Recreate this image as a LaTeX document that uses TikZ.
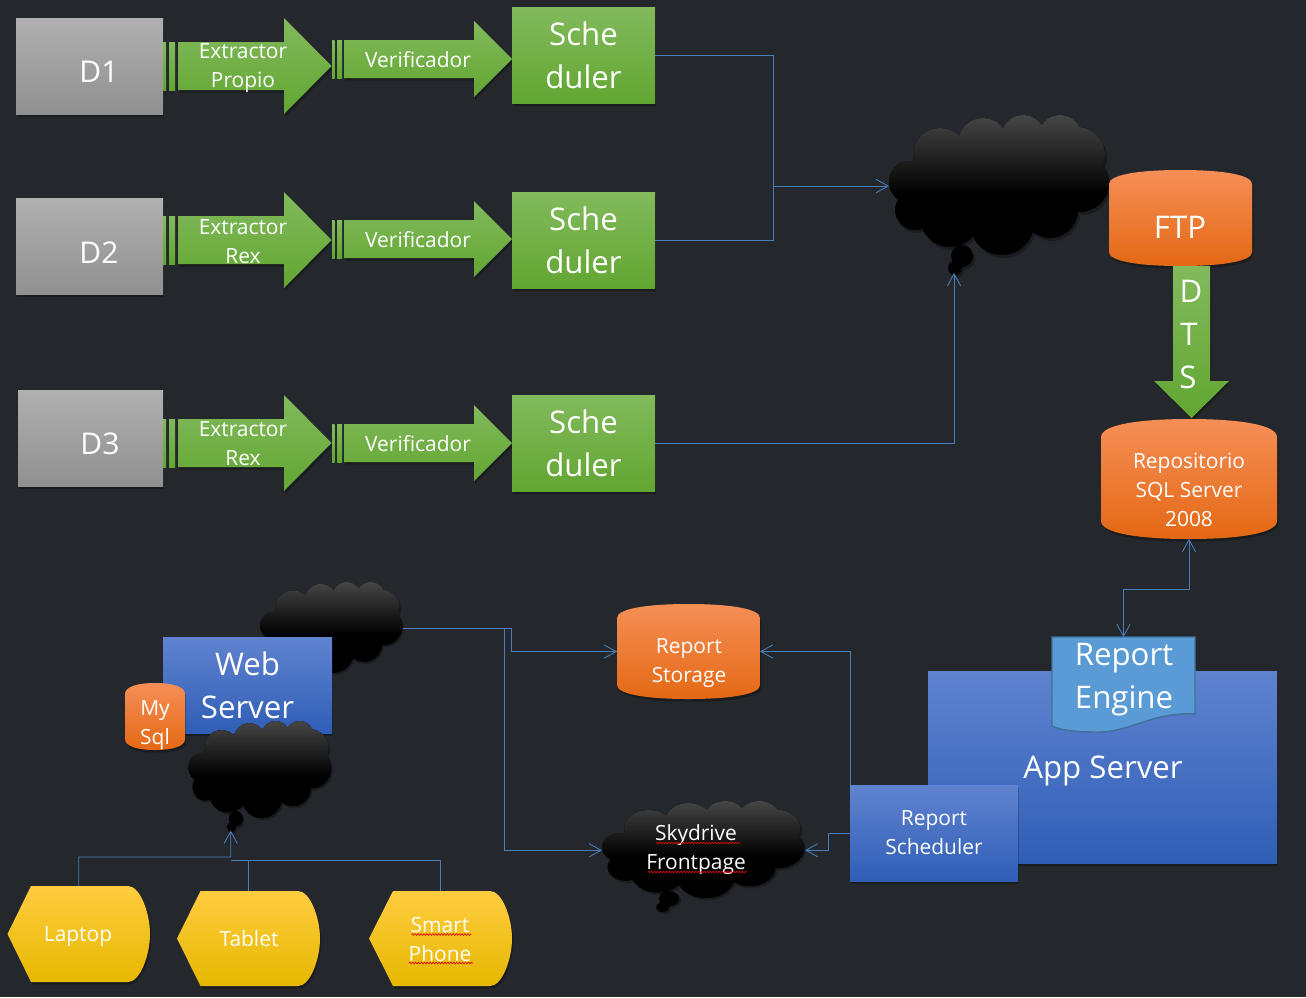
\documentclass[tikz,border=0pt]{standalone}
\usepackage{fontspec}
\setmainfont{Open Sans}
\usetikzlibrary{shadows,arrows.meta,decorations.pathmorphing}
\definecolor{bg}{HTML}{24272C}
\definecolor{gA}{HTML}{B0B0B0}\definecolor{gB}{HTML}{A2A2A2}\definecolor{gC}{HTML}{909090}
\definecolor{grA}{HTML}{82BA5C}\definecolor{grB}{HTML}{70AE42}\definecolor{grC}{HTML}{62A632}
\definecolor{oA}{HTML}{F58F57}\definecolor{oB}{HTML}{F47C2C}\definecolor{oC}{HTML}{E46814}
\definecolor{bA}{HTML}{6083CF}\definecolor{bB}{HTML}{3F6FC7}\definecolor{bC}{HTML}{2F5EB6}
\definecolor{yA}{HTML}{FFCC40}\definecolor{yB}{HTML}{FFC800}\definecolor{yC}{HTML}{E6B800}
\definecolor{docfill}{HTML}{5B9BD5}\definecolor{docline}{HTML}{41719C}
\definecolor{wire}{HTML}{4A7EBB}
\tikzset{
  shad/.style={drop shadow={shadow xshift=1pt,shadow yshift=-2pt,opacity=.25,fill=black}},
  grayfill/.style={top color=gA,middle color=gB,bottom color=gC},
  greenfill/.style={top color=grA,middle color=grB,bottom color=grC},
  orangefill/.style={top color=oA,middle color=oB,bottom color=oC},
  bluefill/.style={top color=bA,middle color=bB,bottom color=bC},
  yellowfill/.style={top color=yA,middle color=yB,bottom color=yC},
  hit/.style 2 args={minimum width={(#1)*.75pt},minimum height={(#2)*.75pt},inner sep=0,outer sep=0},
  txtS/.style={text=white,align=center,inner sep=0,font=\fontsize{15.7}{21.75}\selectfont},
  txtL/.style={text=white,align=center,inner sep=0,font=\fontsize{23.4}{32.25}\selectfont},
  txtM/.style={text=white,align=center,inner sep=0,font=\fontsize{22.5}{32.25}\selectfont},
  wirestyle/.style={draw=wire,line width=.65pt},
  tip/.style={-{Straight Barb[length=9pt,width=10pt,line width=.65pt]}},
  bothtips/.style={{Straight Barb[length=9pt,width=10pt,line width=.65pt]}-{Straight Barb[length=9pt,width=10pt,line width=.65pt]}},
  squiggle/.style={draw=red!85!black,line width=.45pt,decorate,decoration={zigzag,amplitude=.7pt,segment length=2.2pt}},
}
% rectangle node: name, x0, y0, x1, y1, fill style, text style, text
\newcommand{\rectnode}[8]{%
  \node[hit={#4-#2}{#5-#3},#6,#7,shad] (#1) at ({(#2+#4)/2},{(#3+#5)/2}) {#8};}
% invisible box over a drawn shape
\newcommand{\hitbox}[5]{\node[hit={#4-#2}{#5-#3}] (#1) at ({(#2+#4)/2},{(#3+#5)/2}) {};}
% cylinder: name x0 y0 x1 y1 cap
\newcommand{\cyl}[6]{%
  \pgfmathsetmacro{\xm}{(#2+#4)/2}\pgfmathsetmacro{\wq}{(#4-#2)*.3}%
  \pgfmathsetmacro{\ya}{#3+#6}\pgfmathsetmacro{\yb}{#5-#6}%
  \pgfmathsetmacro{\yc}{#3+.35*#6}\pgfmathsetmacro{\yd}{#5-.35*#6}%
  \path[orangefill,shad] (#2,\ya) .. controls (#2,\yc) and (\xm-\wq,#3) .. (\xm,#3)
     .. controls (\xm+\wq,#3) and (#4,\yc) .. (#4,\ya) -- (#4,\yb)
     .. controls (#4,\yd) and (\xm+\wq,#5) .. (\xm,#5)
     .. controls (\xm-\wq,#5) and (#2,\yd) .. (#2,\yb) -- cycle;
  \hitbox{#1}{#2}{#3}{#4}{#5}}
% display shape: name x0 y0 x1 y1 shoulder arcstart
\newcommand{\dispnode}[7]{%
  \pgfmathsetmacro{\ym}{(#3+#5)/2}\pgfmathsetmacro{\qh}{(#5-#3)*.28}%
  \pgfmathsetmacro{\qw}{(#4-#7)*.55}%
  \path[yellowfill,shad] (#2,\ym) -- (#6,#3) -- (#7,#3)
     .. controls (#7+\qw,#3) and (#4,#3+\qh) .. (#4,\ym)
     .. controls (#4,#5-\qh) and (#7+\qw,#5) .. (#7,#5) -- (#6,#5) -- cycle;
  \hitbox{#1}{#2}{#3}{#4}{#5}}
% first block arrow: name, centre y, text, text centre y
\newcommand{\extr}[4]{%
  \path[greenfill] (163,#2-24) rectangle (166,#2+24);
  \path[greenfill] (169,#2-24) rectangle (175,#2+24);
  \path[greenfill,shad] (178,#2-24) -- (284,#2-24) -- (284,#2-48) -- (331.5,#2) -- (284,#2+48) -- (284,#2+24) -- (178,#2+24) -- cycle;
  \node[txtS] (#1) at (243,#4) {#3};}
% second block arrow: name, centre y
\newcommand{\verif}[2]{%
  \path[greenfill] (332,#2-19) rectangle (334.5,#2+19);
  \path[greenfill] (337,#2-19) rectangle (342,#2+19);
  \path[greenfill,shad] (344,#2-19) -- (474,#2-19) -- (474,#2-38) -- (512,#2) -- (474,#2+38) -- (474,#2+19) -- (344,#2+19) -- cycle;
  \node[txtS] (#1) at (418,#2+1) {Verificador};}
% cloud, local units: px of the largest one, 221 x 160
\def\cloudcircles{(51,40) circle[radius=27] (94,28) circle[radius=25] (134,22) circle[radius=22]
  (171,22) circle[radius=22] (188,40) circle[radius=28] (191,68) circle[radius=29]
  (21,67) circle[radius=21] (26,95) circle[radius=20] (61,102) circle[radius=30]
  (113,108) circle[radius=32] (161,95) circle[radius=28] (100,70) circle[radius=50]
  (150,65) circle[radius=45] (60,65) circle[radius=35] (73,141) circle[radius=11]
  (66,153) circle[radius=7]}
% name, x0, y0, x1, y1
\newcommand{\cloudnode}[5]{%
  \pgfmathsetmacro{\sx}{(#4-#2)/221}\pgfmathsetmacro{\sy}{(#5-#3)/160}%
  \begin{scope}[shift={(#2,#3)},xscale=\sx,yscale=\sy]
    \fill[black,opacity=.3,shift={(2,3)}] \cloudcircles;
    \begin{scope}
      \clip \cloudcircles;
      \fill[black] (-2,-2) rectangle (223,162);
      \shade[top color=black!72,bottom color=black] (-2,-2) rectangle (223,80);
    \end{scope}
    \coordinate (#1-w) at (0,71);
    \coordinate (#1-e) at (221,71);
    \coordinate (#1-t) at (65,158);
  \end{scope}}
\begin{document}
\begin{tikzpicture}[x=.75pt,y=-.75pt]
\useasboundingbox (0,0) rectangle (1306,997);
\fill[bg] (0,0) rectangle (1306,997);

% sources
\rectnode{d1}{16}{18}{163}{114}{grayfill}{}{}
\rectnode{d2}{16}{198}{163}{294}{grayfill}{}{}
\rectnode{d3}{18}{390}{163}{486}{grayfill}{}{}
\node[txtM] (d1t) at (99,72) {D1};
\node[txtM] (d2t) at (99,253) {D2};
\node[txtM] (d3t) at (100,444) {D3};

\extr{e1}{66}{Extractor\\Propio}{68.5}
\extr{e2}{240}{Extractor\\Rex}{242}
\extr{e3}{443}{Extractor\\Rex}{443.5}
\verif{v1}{59}
\verif{v2}{239}
\verif{v3}{443}

\rectnode{s1}{512}{7}{655}{103}{greenfill}{txtL}{Sche\\duler}
\rectnode{s2}{512}{192}{655}{288}{greenfill}{txtL}{Sche\\duler}
\rectnode{s3}{512}{395}{655}{491}{greenfill}{txtL}{Sche\\duler}

% upper cloud, FTP, DTS, repository
\cloudnode{c1}{889}{115}{1110}{275}
\cyl{ftp}{1109}{170}{1252}{266}{14}
\node[txtL] (ftpt) at (1180,227) {FTP};
\path[greenfill,shad] (1173,266) -- (1210,266) -- (1210,381) -- (1229,381) -- (1191.5,418) -- (1154,381) -- (1173,381) -- cycle;
\node[txtL] (dtsd) at (1191,291) {D};
\node[txtL] (dtst) at (1189,334) {T};
\node[txtL] (dtss) at (1188,377) {S};
\cyl{repo}{1101}{419}{1277}{539}{18}
\node[txtS] (repot) at (1189,490) {Repositorio\\SQL Server\\2008};

% web side
\cloudnode{c2}{260}{582}{403}{686}
\rectnode{web}{163}{637}{332}{733}{bluefill}{txtL}{Web\\Server}
\cyl{mysql}{125}{683}{185}{750}{11}
\node[txtS] (mysqlt) at (155,725) {My\\Sql};
\cloudnode{c3}{188.5}{721}{332}{832}

% devices
\dispnode{lap}{7.5}{886}{150}{982}{31}{128}
\node[txtS] (lapt) at (78,936.5) {Laptop};
\dispnode{tab}{177}{891}{320}{986}{200.5}{298}
\node[txtS] (tabt) at (249,938.5) {Tablet};
\dispnode{pho}{369}{891}{512}{986}{393}{490}
\node[txtS] (phot) at (440,940) {Smart\\Phone};
\path[squiggle] (411.5,934.5) -- (471,934.5);
\path[squiggle] (409,963) -- (473,963);

% report storage and skydrive
\cyl{stor}{617}{604}{760}{699}{14}
\node[txtS] (stort) at (689,663.5) {Report\\Storage};
\cloudnode{c4}{602}{801}{805}{912}
\node[txtS] (c4t) at (696,849.5) {Skydrive\\Frontpage};
\path[squiggle] (656,843) -- (740,843);
\path[squiggle] (648,872) -- (747,872);

% connector junctions
\coordinate (busx) at (773,186);
\coordinate (wxa) at (511,0);
\coordinate (wxb) at (504,0);
\coordinate (lapj) at (230.7,857);
\coordinate (tabj) at (230.7,860);
\coordinate (linkm) at (1157,589);
\coordinate (sj) at (828,0);

% connectors behind the app boxes
\draw[wirestyle,tip] (c2-e) -- (c2-e -| wxa) |- (stor.west);
\draw[wirestyle,tip] (c2-e) -- (c2-e -| wxb) |- (c4-w);
\draw[wirestyle] (s2.east) -| (busx);
\draw[wirestyle,tip] (s1.east) -| (busx) -- (c1-w);
\draw[wirestyle,tip] (s3.east) -| (c1-t);
\draw[wirestyle] (tab.north) |- (tabj);
\draw[wirestyle] (pho.north) |- (tabj);
\draw[wirestyle,tip] (lap.north) |- (lapj) -- (c3-t);

% app server
\rectnode{app}{928}{671}{1277}{863}{bluefill}{}{}
\node[txtL] (appt) at (1103,771) {App Server};
\path[fill=docfill,draw=docline,line width=1.1pt] (1052,637) -- (1195,637) -- (1195,714)
   .. controls (1150,712) and (1130,733) .. (1096,732)
   .. controls (1080,732) and (1062,731) .. (1052,726) -- cycle;
\hitbox{doc}{1052}{637}{1195}{726}
\node[txtL] (doct) at (1124,680) {Report\\Engine};
\node[hit={168}{96},bluefill,txtS,shad] (sched) at (934,833) {Report\\Scheduler};

\draw[wirestyle,bothtips] (doc.north) |- (linkm) -| (repo.south);
\draw[wirestyle,tip] (sched.north west) |- (stor.east);
\draw[wirestyle,tip] (sched.west) -- (sched.west -| sj) |- (c4-e);
\end{tikzpicture}
\end{document}
